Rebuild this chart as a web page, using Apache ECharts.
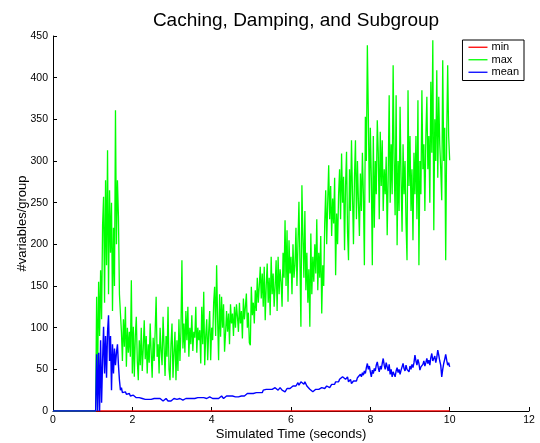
<!DOCTYPE html>
<html>
<head>
<meta charset="utf-8">
<script src="https://cdn.jsdelivr.net/npm/echarts@6/dist/echarts.min.js"></script>
<style>
html,body{margin:0;padding:0;background:#fff;}
#chart{width:540px;height:443px;}
</style>
</head>
<body>
<div id="chart"></div>
<script>
// Tick labels / axes
const xTicks = [0, 2, 4, 6, 8, 10, 12];
const yTicks = [0, 50, 100, 150, 200, 250, 300, 350, 400, 450];
const seriesNames = ['min', 'max', 'mean'];

// Idle period before the first group appears (all statistics zero)
const idleTimes = [0, 1.075];
const idleValues = [0, 0];

// min stays at zero for the whole run
const minTimes = [0, 10];
const minValues = [0, 0];

// sampled statistics, first sample at 1.1 s, one sample every 0.025 s up to 10 s
const sampleStart = 1.1;
const sampleStep = 0.025;

const maxValues = [
  137,40,155,90,169,110,223,257,130,277,175,313,140,265,190,250,120,220,150,361,
  200,277,233,140,117,95,60,110,77,125,53,100,70,95,65,157,45,101,41,90,
  113,60,37,85,55,100,48,75,109,62,90,45,80,58,105,70,40,88,60,95,
  137,65,80,45,100,72,55,113,78,42,90,65,125,50,37,80,105,40,70,95,
  37,85,48,110,60,95,181,75,105,70,120,85,125,65,100,80,115,72,95,88,
  125,70,100,85,97,57,125,80,143,55,90,110,61,95,120,61,100,85,130,149,
  90,175,110,61,140,89,137,100,128,71,93,120,95,117,80,128,105,117,90,125,
  100,128,113,95,130,105,120,87,135,110,125,141,100,118,82,79,149,115,130,105,
  145,120,160,130,150,173,135,165,125,173,109,150,177,130,160,115,185,140,165,125,
  150,181,120,185,140,170,155,125,190,160,229,150,217,131,205,165,185,140,200,160,
  175,220,150,200,251,180,101,271,210,160,240,145,190,130,170,101,213,140,185,155,
  200,165,230,145,190,160,210,117,175,150,225,265,200,250,295,230,270,210,255,225,
  280,163,237,200,260,290,230,309,250,281,193,270,311,215,181,290,240,325,260,200,
  280,325,230,300,250,210,285,240,310,260,175,353,300,439,355,250,340,280,175,330,
  220,300,260,349,310,230,335,270,325,240,290,260,305,211,280,379,250,320,260,415,
  300,235,379,199,300,240,365,280,215,320,260,300,225,181,385,270,330,240,290,205,
  310,260,330,230,373,175,300,260,385,290,320,240,330,377,290,330,250,395,310,445,
  217,350,300,409,280,377,320,290,253,421,300,340,181,330,415,330,301
];

const meanValues = [
  68,0,70,0,85,10,60,101,45,90,40,95,115,60,90,25,80,45,75,55,
  70,80,55,37,25,28,22,24,21,23,20,22,19,21,18,20,17,19,17,18,
  16,17,15,16,14,16,15,17,15,14,16,15,14,15,16,14,15,13,15,14,
  14,15,13,14,15,13,14,12,14,13,15,13,12,14,13,12,14,13,15,13,
  13,14,12,13,15,13,14,13,12,14,15,13,14,15,13,14,15,14,13,15,
  14,15,16,14,15,16,15,14,16,15,16,15,14,16,17,15,16,15,17,16,
  15,17,16,15,17,16,18,16,15,17,16,18,17,16,18,17,16,18,17,18,
  17,18,19,17,18,19,18,20,19,18,20,19,21,20,19,21,20,19,21,22,
  21,22,20,23,22,24,23,22,25,24,23,26,25,24,26,25,27,26,25,27,
  28,26,27,25,26,28,27,25,24,26,23,25,27,26,28,27,29,28,30,29,
  31,30,32,34,31,33,35,36,34,32,35,33,30,28,29,26,25,24,23,25,
  24,26,25,27,26,24,27,28,26,29,27,28,30,29,31,28,30,32,30,33,
  32,35,34,37,35,38,40,37,41,39,43,38,37,41,35,34,38,33,31,36,
  35,38,36,40,42,39,44,41,46,43,48,45,52,57,50,54,47,41,49,45,
  51,48,55,59,52,47,54,50,57,63,55,50,58,53,48,56,44,50,41,47,
  45,41,48,52,46,50,44,49,53,57,51,48,55,50,52,47,54,50,56,52,
  58,67,60,55,62,57,49,53,51,56,60,54,58,63,57,61,55,64,69,60,
  62,66,58,64,73,67,60,55,41,50,57,62,68,61,55,58,53
];

function sampled(values) {
  const lead = idleTimes.map((t, i) => [t, idleValues[i]]);
  const body = values.map((v, i) => [+(sampleStart + i * sampleStep).toFixed(3), v]);
  return lead.concat(body);
}

const minData = minTimes.map((t, i) => [t, minValues[i]]);
const maxData = sampled(maxValues);
const meanData = sampled(meanValues);

const FONT = '"Liberation Sans", Arial, Helvetica, sans-serif';
const chart = echarts.init(document.getElementById('chart'), null, {renderer: 'canvas'});

const lineSeries = (name, data, color, width) => ({
  name, type: 'line', data, symbol: 'none', showSymbol: false,
  sampling: null, animation: false,
  lineStyle: {color, width}, itemStyle: {color},
  emphasis: {disabled: true}
});

chart.setOption({
  animation: false,
  backgroundColor: '#ffffff',
  title: {
    text: 'Caching, Damping, and Subgroup',
    left: 291, top: 6, textAlign: 'center',
    textStyle: {fontFamily: FONT, fontSize: 19, fontWeight: 'normal', color: '#000'}
  },
  legend: {
    data: seriesNames,
    orient: 'vertical',
    right: 16, top: 40,
    icon: 'rect', itemWidth: 19, itemHeight: 1.3, itemGap: 0,
    padding: [1, 5, 2, 6],
    borderColor: '#000', borderWidth: 1, backgroundColor: '#fff',
    textStyle: {fontFamily: FONT, fontSize: 11, color: '#000', lineHeight: 12.5, padding: [0, 0, 0, -1]},
    selectedMode: false
  },
  grid: {left: 53, right: 11, top: 36, bottom: 32, containLabel: false, outerBoundsMode: 'none'},
  xAxis: {
    type: 'value', min: 0, max: 12, interval: 2,
    name: 'Simulated Time (seconds)', nameLocation: 'middle', nameGap: 17,
    nameMoveOverlap: false,
    nameTextStyle: {fontFamily: FONT, fontSize: 13, color: '#000', verticalAlign: 'top'},
    axisLine: {show: true, lineStyle: {color: '#000', width: 1}},
    axisTick: {show: true, inside: true, length: 4, lineStyle: {color: '#000'}},
    axisLabel: {fontFamily: FONT, fontSize: 10.5, color: '#000', margin: 4,
      formatter: v => xTicks.includes(v) ? String(v) : ''},
    splitLine: {show: false}
  },
  yAxis: {
    type: 'value', min: 0, max: 450, interval: 50,
    name: '#variables/group', nameLocation: 'middle', nameGap: 31, nameRotate: 90,
    nameMoveOverlap: false,
    nameTextStyle: {fontFamily: FONT, fontSize: 13, color: '#000', verticalAlign: 'middle'},
    axisLine: {show: true, lineStyle: {color: '#000', width: 1}},
    axisTick: {show: true, inside: true, length: 4, lineStyle: {color: '#000'}},
    axisLabel: {fontFamily: FONT, fontSize: 10.5, color: '#000', margin: 5,
      formatter: v => yTicks.includes(v) ? String(v) : ''},
    splitLine: {show: false}
  },
  series: [
    lineSeries('min', minData, '#ff0000', 1.3),
    lineSeries('max', maxData, '#00ff00', 1.3),
    lineSeries('mean', meanData, '#0000ff', 1.4)
  ]
});
</script>
</body>
</html>
